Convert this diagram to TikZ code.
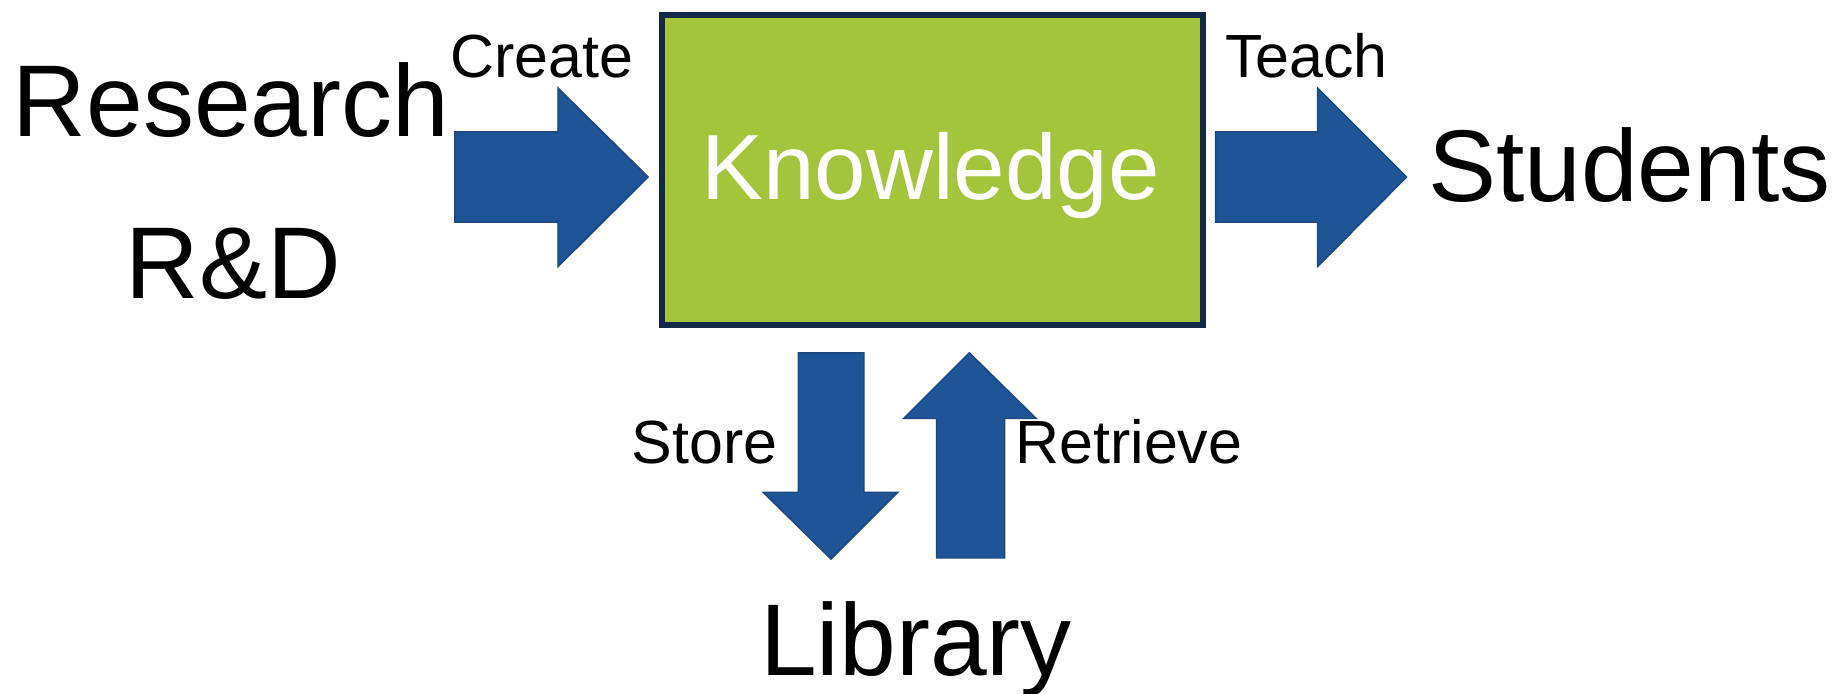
\documentclass[tikz,border=0pt]{standalone}
\usepackage{fontspec}
\setmainfont{Liberation Sans}
\usepackage{tikz}
\definecolor{arrowblue}{RGB}{31,85,150}
\definecolor{arrowedge}{RGB}{27,72,128}
\definecolor{boxgreen}{RGB}{164,196,60}
\definecolor{boxedge}{RGB}{20,40,74}
\tikzset{blockarrow/.style={fill=arrowblue, draw=arrowedge, line width=0.6pt, line join=miter}}
\tikzset{bigtext/.style={inner sep=0pt, anchor=base, font=\fontsize{43.5}{50}\selectfont}}
\tikzset{smalltext/.style={inner sep=0pt, anchor=base, font=\fontsize{26}{30}\selectfont}}
\begin{document}
\begin{tikzpicture}[x=0.5pt,y=-0.5pt]
		\useasboundingbox (0,0) rectangle (1568,592);
		\draw[fill=boxgreen, draw=boxedge, line width=2.5pt] (564.5,12.5) rectangle (1026.5,277.5);
		\node[inner sep=0pt, anchor=base, text=white, font=\fontsize{39.5}{45}\selectfont] (knowledge) at (794,170.6) {Knowledge};
		\draw[blockarrow] (388,112.5) -- (476,112.5) -- (476,75) -- (553,151) -- (476,227.5) -- (476,189.5) -- (388,189.5) -- cycle;
		\draw[blockarrow] (1037,112.5) -- (1124,112.5) -- (1124,75) -- (1200,151) -- (1124,227.5) -- (1124,189.5) -- (1037,189.5) -- cycle;
		\draw[blockarrow] (681,301) -- (737,301) -- (737,420) -- (766,420) -- (709,477) -- (651,420) -- (681,420) -- cycle;
		\draw[blockarrow] (799,476) -- (857,476) -- (857,357) -- (884,357) -- (827,301) -- (771,357) -- (799,357) -- cycle;
		\node[bigtext] (research) at (197,116.6) {Research};
		\node[bigtext] (rd) at (199,255) {R\&D};
		\node[bigtext] (students) at (1390,172) {Students};
		\node[bigtext] (library) at (781.5,576) {Library};
		\node[smalltext] (create) at (462,66) {Create};
		\node[smalltext] (teach) at (1114.5,66) {Teach};
		\node[smalltext] (store) at (601,395) {Store};
		\node[smalltext] (retrieve) at (963,395) {Retrieve};
		\end{tikzpicture}
\end{document}
